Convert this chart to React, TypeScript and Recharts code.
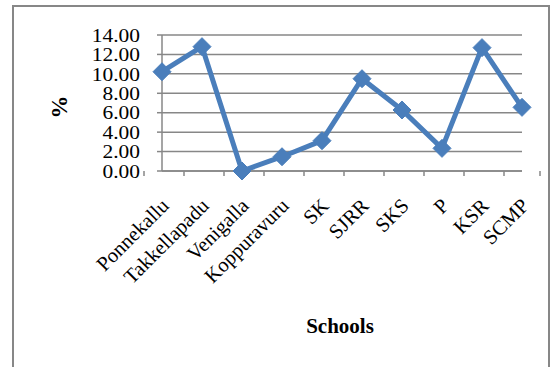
import React from "react";
import { LineChart, Line, XAxis, YAxis, CartesianGrid, Label } from "recharts";

const schools = ["Ponnekallu", "Takkellapadu", "Venigalla", "Koppuravuru", "SK", "SJRR", "SKS", "P", "KSR", "SCMP"];
const percents = [10.22, 12.8, 0, 1.47, 3.12, 9.5, 6.28, 2.33, 12.7, 6.55];
const yTicks = [0, 2, 4, 6, 8, 10, 12, 14];

const data = schools.map((s, i) => ({ school: s, pct: percents[i] }));

const W = 553;
const H = 367;
const M = { top: 35, right: 31, left: 0, bottom: 0 };
const Y_AXIS_W = 162;
const X_AXIS_H = 196;
const BAND = (W - Y_AXIS_W - M.right) / schools.length;
const SERIF = "Liberation Serif, Times New Roman, DejaVu Serif, serif";
const GRAY = "#878787";
const BLUE = "#4a7ebb";

const XTick = (props: any) => {
  const { x, y, payload, index } = props;
  const lx = x + 8;
  const ly = y + 36;
  return (
    <g>
      <line x1={x - BAND / 2} y1={y} x2={x - BAND / 2} y2={y + 5} stroke={GRAY} strokeWidth={1.5} />
      {index === schools.length - 1 && (
        <line x1={x + BAND / 2} y1={y} x2={x + BAND / 2} y2={y + 5} stroke={GRAY} strokeWidth={1.5} />
      )}
      <text
        x={lx}
        y={ly}
        textAnchor="end"
        transform={`rotate(-45, ${lx}, ${ly})`}
        style={{ fontFamily: SERIF, fontSize: 20.5 }}
        fill="#000"
      >
        {payload.value}
      </text>
    </g>
  );
};

const YTick = (props: any) => {
  const { x, y, payload } = props;
  return (
    <g transform={`translate(${x}, ${y}) scale(1.1, 1)`}>
      <text
        x={0}
        y={0}
        textAnchor="end"
        dominantBaseline="central"
        style={{ fontFamily: SERIF, fontSize: 19.5 }}
        fill="#000"
      >
        {Number(payload.value).toFixed(2)}
      </text>
    </g>
  );
};

const Diamond = (props: any) => {
  const { cx, cy } = props;
  if (cx == null || cy == null) return null;
  const r = 9;
  return (
    <polygon
      points={`${cx},${cy - r} ${cx + r},${cy} ${cx},${cy + r} ${cx - r},${cy}`}
      fill={BLUE}
      stroke={BLUE}
      strokeWidth={1}
    />
  );
};

export default function App() {
  return (
    <div style={{ position: "absolute", left: 0, top: 0, width: W, height: H, overflow: "hidden", background: "#fff" }}>
      <div
        style={{
          position: "absolute",
          left: 12,
          top: 5,
          width: 538,
          height: 400,
          border: `2px solid ${GRAY}`,
          boxSizing: "border-box",
        }}
      />
      <div style={{ position: "absolute", left: 0, top: 0 }}>
        <LineChart width={W} height={H} data={data} margin={M}>
          <CartesianGrid vertical={false} stroke={GRAY} strokeWidth={1.5} />
          <XAxis
            dataKey="school"
            type="category"
            interval={0}
            height={X_AXIS_H}
            axisLine={{ stroke: GRAY, strokeWidth: 1.5 }}
            tickLine={false}
            tickSize={0}
            tickMargin={0}
            tick={<XTick />}
          >
            <Label
              content={(p: any) => {
                const vb = p.viewBox;
                return (
                  <text
                    x={vb.x + vb.width / 2 - 2}
                    y={vb.y + 162}
                    textAnchor="middle"
                    style={{ fontFamily: SERIF, fontSize: 21, fontWeight: "bold" }}
                    fill="#000"
                  >
                    Schools
                  </text>
                );
              }}
            />
          </XAxis>
          <YAxis
            type="number"
            domain={[0, 14]}
            ticks={yTicks}
            interval={0}
            width={Y_AXIS_W}
            axisLine={{ stroke: GRAY, strokeWidth: 1.5 }}
            tickLine={{ stroke: GRAY, strokeWidth: 1.5 }}
            tickSize={5}
            tickMargin={17}
            tick={<YTick />}
          >
            <Label
              content={(p: any) => {
                const vb = p.viewBox;
                const cx = vb.x + 59;
                const cy = vb.y + vb.height / 2 + 4;
                return (
                  <text
                    x={cx}
                    y={cy}
                    textAnchor="middle"
                    dominantBaseline="central"
                    transform={`rotate(-90, ${cx}, ${cy})`}
                    style={{ fontFamily: SERIF, fontSize: 23, fontWeight: "bold" }}
                    fill="#000"
                  >
                    %
                  </text>
                );
              }}
            />
          </YAxis>
          <Line
            type="linear"
            dataKey="pct"
            stroke={BLUE}
            strokeWidth={5}
            dot={<Diamond />}
            activeDot={false}
            isAnimationActive={false}
          />
        </LineChart>
      </div>
    </div>
  );
}
